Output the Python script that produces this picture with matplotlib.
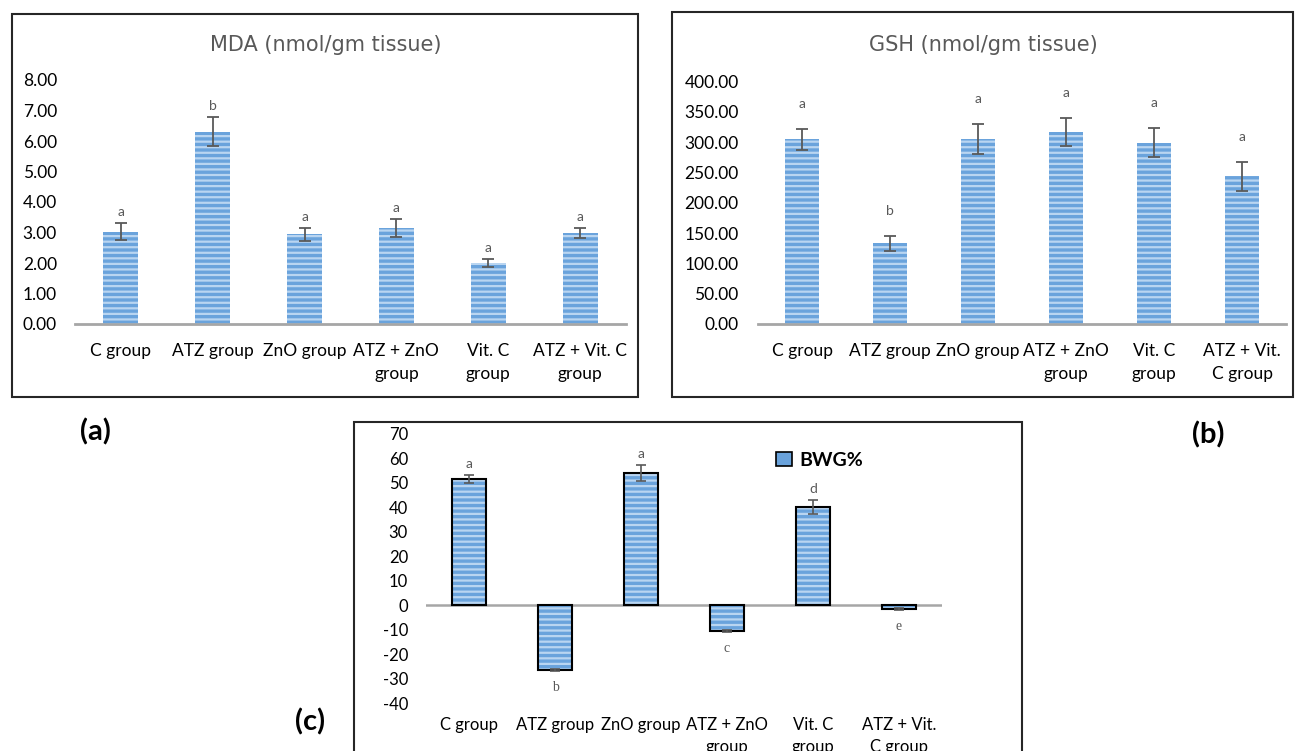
import matplotlib
matplotlib.use('Agg')
import matplotlib.pyplot as plt
from matplotlib.patches import Rectangle, Patch

plt.rcParams['font.family'] = ['Lato', 'DejaVu Sans']
plt.rcParams['hatch.linewidth'] = 1.6

W, H = 1296, 751

# data
labels_a = ['C group', 'ATZ group', 'ZnO group', 'ATZ + ZnO\ngroup', 'Vit. C\ngroup', 'ATZ + Vit. C\ngroup']
labels_b = ['C group', 'ATZ group', 'ZnO group', 'ATZ + ZnO\ngroup', 'Vit. C\ngroup', 'ATZ + Vit.\nC group']
labels_c = ['C group', 'ATZ group', 'ZnO group', 'ATZ + ZnO\ngroup', 'Vit. C\ngroup', 'ATZ + Vit.\nC group']

mda = [3.02, 6.30, 2.94, 3.14, 2.00, 2.99]
mda_err = [0.28, 0.48, 0.21, 0.30, 0.12, 0.17]
mda_sig = ['a', 'b', 'a', 'a', 'a', 'a']

gsh = [305, 133, 305, 317, 299, 244]
gsh_err = [17, 13, 25, 23, 24, 24]
gsh_sig = ['a', 'b', 'a', 'a', 'a', 'a']

bwg = [51.6, -26.4, 53.9, -10.3, 40.2, -1.4]
bwg_err = [1.8, 0.5, 3.3, 0.4, 3.0, 0.3]
bwg_sig = ['a', 'b', 'a', 'c', 'd', 'e']

BLUE = '#6aa3dc'
STRIPE = '#b9d5f1'
GRAY = '#a6a6a6'
ERR = '#595959'


def px_rect(left, top, right, bottom):
    return [left / W, 1 - bottom / H, (right - left) / W, (bottom - top) / H]


def striped_bars(ax, x, vals, width, edge=None):
    ax.bar(x, vals, width, color=BLUE, linewidth=0, zorder=2)
    ax.bar(x, vals, width, fill=False, edgecolor=STRIPE, hatch='---', linewidth=0, zorder=3)
    if edge:
        ax.bar(x, vals, width, fill=False, edgecolor=edge, linewidth=1.5, zorder=4)


def style_axis(ax):
    for s in ['left', 'right', 'top']:
        ax.spines[s].set_visible(False)
    ax.tick_params(axis='both', length=0)


fig = plt.figure(figsize=(W / 100, H / 100), dpi=100)

# outer boxes
for l, t, r, b in [(12, 14, 638, 397), (672, 12, 1293, 397), (354, 422, 1022, 780)]:
    fig.patches.append(Rectangle((l / W, 1 - b / H), (r - l) / W, (b - t) / H,
                                 transform=fig.transFigure, fill=False,
                                 edgecolor='#262626', linewidth=1.5))

x = list(range(6))

# (a) MDA
ax = fig.add_axes(px_rect(75, 80, 626, 324))
striped_bars(ax, x, mda, 0.38)
ax.errorbar(x, mda, yerr=mda_err, fmt='none', ecolor=ERR, elinewidth=1.3, capsize=4, capthick=1.3, zorder=5)
for i in x:
    ax.annotate(mda_sig[i], (i, mda[i] + mda_err[i]), xytext=(0, 8), textcoords='offset points',
                ha='center', va='center', fontsize=10, color=ERR)
ax.set_xlim(-0.5, 5.5)
ax.set_ylim(0, 8)
ax.set_yticks([0, 1, 2, 3, 4, 5, 6, 7, 8])
ax.set_yticklabels(['%.2f' % v for v in range(9)], fontsize=12.5)
ax.set_xticks(x)
ax.set_xticklabels(labels_a, fontsize=12.5, linespacing=1.5)
style_axis(ax)
ax.tick_params(axis='x', pad=14)
ax.tick_params(axis='y', pad=13)
ax.spines['bottom'].set_color(GRAY)
ax.spines['bottom'].set_linewidth(2)
fig.text(326 / W, 1 - 45 / H, 'MDA (nmol/gm tissue)', ha='center', va='center',
         fontsize=15, color='#595959', family=['DejaVu Sans'])

# (b) GSH
ax = fig.add_axes(px_rect(758, 81.7, 1286, 324))
striped_bars(ax, x, gsh, 0.38)
ax.errorbar(x, gsh, yerr=gsh_err, fmt='none', ecolor=ERR, elinewidth=1.3, capsize=4, capthick=1.3, zorder=5)
for i in x:
    ax.annotate(gsh_sig[i], (i, gsh[i] + gsh_err[i]), xytext=(0, 18), textcoords='offset points',
                ha='center', va='center', fontsize=10, color=ERR)
ax.set_xlim(-0.5, 5.5)
ax.set_ylim(0, 400)
ax.set_yticks(range(0, 401, 50))
ax.set_yticklabels(['%.2f' % v for v in range(0, 401, 50)], fontsize=12.5)
ax.set_xticks(x)
ax.set_xticklabels(labels_b, fontsize=12.5, linespacing=1.5)
style_axis(ax)
ax.tick_params(axis='x', pad=14)
ax.tick_params(axis='y', pad=14)
ax.spines['bottom'].set_color(GRAY)
ax.spines['bottom'].set_linewidth(2)
fig.text(983 / W, 1 - 45 / H, 'GSH (nmol/gm tissue)', ha='center', va='center',
         fontsize=15, color='#595959', family=['DejaVu Sans'])

# (c) BWG%
ax = fig.add_axes(px_rect(426, 434, 942, 703.3))
striped_bars(ax, x, bwg, 0.39, edge='black')
ax.errorbar(x, bwg, yerr=bwg_err, fmt='none', ecolor=ERR, elinewidth=1.2, capsize=3.5, capthick=1.2, zorder=5)
for i in x:
    if bwg[i] >= 0:
        ax.annotate(bwg_sig[i], (i, bwg[i] + bwg_err[i]), xytext=(0, 8), textcoords='offset points',
                    ha='center', va='center', fontsize=10, color=ERR)
    else:
        ax.annotate(bwg_sig[i], (i, bwg[i] - bwg_err[i]), xytext=(0, -12), textcoords='offset points',
                    ha='center', va='center', fontsize=10, color=ERR,
                    family=['Liberation Serif', 'DejaVu Serif'])
ax.axhline(0, color=GRAY, linewidth=1.8, zorder=1)
ax.set_xlim(-0.5, 5.5)
ax.set_ylim(-40, 70)
ax.set_yticks(range(-40, 71, 10))
ax.set_yticklabels([str(v) for v in range(-40, 71, 10)], fontsize=12)
ax.set_xticks(x)
ax.set_xticklabels(labels_c, fontsize=12, linespacing=1.45)
style_axis(ax)
ax.spines['bottom'].set_visible(False)
ax.tick_params(axis='x', pad=10)
ax.tick_params(axis='y', pad=13)
ax.legend(handles=[Patch(facecolor=BLUE, edgecolor='black', linewidth=1.2, label='BWG%')],
          loc='upper left', bbox_to_anchor=(0.645, 1.0), frameon=False,
          handlelength=0.8, handleheight=0.8, handletextpad=0.4,
          prop={'size': 14, 'weight': 'bold'})

# panel letters
for txt, px, py in [('(a)', 95, 432), ('(b)', 1208, 435), ('(c)', 310, 722)]:
    fig.text(px / W, 1 - py / H, txt, ha='center', va='center', fontsize=21, fontweight='bold')

fig.savefig('out.png', dpi=100)
